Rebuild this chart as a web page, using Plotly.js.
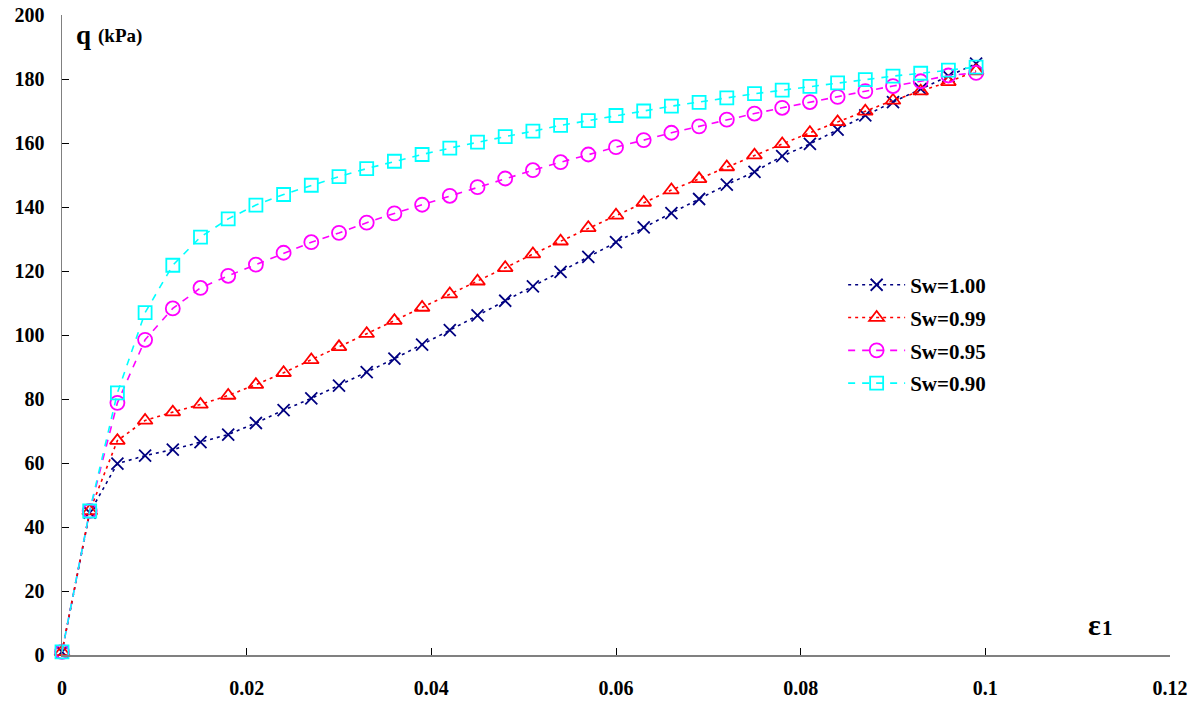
<!DOCTYPE html>
<html>
<head>
<meta charset="utf-8">
<script src="https://cdn.plot.ly/plotly-3.0.1.min.js"></script>
<style>html,body{margin:0;padding:0;background:#fff;}#chart{width:1200px;height:704px;}</style>
</head>
<body>
<div id="chart"></div>
<script>
// axial strain ε1
const strain = [0, 0.003, 0.006, 0.009, 0.012, 0.015, 0.018, 0.021, 0.024, 0.027, 0.030, 0.033, 0.036, 0.039, 0.042, 0.045, 0.048, 0.051, 0.054, 0.057, 0.060, 0.063, 0.066, 0.069, 0.072, 0.075, 0.078, 0.081, 0.084, 0.087, 0.090, 0.093, 0.096, 0.099];
const seriesNames = ["Sw=1.00", "Sw=0.99", "Sw=0.95", "Sw=0.90"];
const qSw100 = [1, 44.5, 59.8, 62.3, 64.2, 66.5, 68.9, 72.5, 76.5, 80.2, 84.2, 88.4, 92.6, 97.0, 101.5, 106.1, 110.7, 115.2, 119.7, 124.4, 129.0, 133.6, 138.1, 142.5, 147.0, 151.0, 155.9, 159.7, 164.2, 168.6, 172.8, 176.9, 180.9, 184.8];
const qSw099 = [1, 45, 67.0, 73.3, 75.9, 78.3, 81.1, 84.5, 88.2, 92.2, 96.3, 100.4, 104.5, 108.6, 112.8, 116.8, 121.0, 125.3, 129.3, 133.5, 137.4, 141.4, 145.3, 148.8, 152.5, 156.2, 159.7, 163.2, 166.6, 169.9, 173.3, 176.2, 179.1, 182.5];
const qSw095 = [1, 45, 78.8, 98.5, 108.3, 114.7, 118.5, 122.0, 125.7, 129.0, 131.9, 135.1, 138.0, 140.7, 143.5, 146.2, 148.9, 151.5, 154.0, 156.4, 158.7, 160.9, 163.2, 165.2, 167.3, 169.2, 171.0, 172.8, 174.4, 176.2, 177.8, 179.3, 181.1, 181.9];
const qSw090 = [1, 45, 81.9, 107.0, 121.8, 130.6, 136.3, 140.6, 143.9, 146.8, 149.5, 152.0, 154.3, 156.4, 158.4, 160.3, 162.0, 163.7, 165.5, 167.0, 168.6, 170.0, 171.5, 172.7, 174.1, 175.4, 176.5, 177.7, 178.8, 179.8, 180.9, 181.8, 182.8, 183.7];
const xTickVals = [0, 0.02, 0.04, 0.06, 0.08, 0.1, 0.12];
const xTickText = ["0", "0.02", "0.04", "0.06", "0.08", "0.1", "0.12"];
const yTickVals = [0, 20, 40, 60, 80, 100, 120, 140, 160, 180, 200];

const FONT = "Liberation Serif, serif";
const styles = [
  {color: "#000080", dash: "3px,4px", symbol: "x-thin-open", size: 12},
  {color: "#FF0000", dash: "3px,4px", symbol: "triangle-up-open", size: 13},
  {color: "#FF00FF", dash: "7px,7px", symbol: "circle-open", size: 14},
  {color: "#00FFFF", dash: "7px,7px", symbol: "square-open", size: 13}
];
const values = [qSw100, qSw099, qSw095, qSw090];
const traces = values.map((v, i) => ({
  type: "scatter",
  mode: "lines+markers",
  x: strain,
  y: v,
  name: seriesNames[i],
  legendgroup: "g" + i,
  cliponaxis: false,
  line: {color: styles[i].color, width: 1.6, dash: styles[i].dash},
  marker: {symbol: styles[i].symbol, size: styles[i].size, color: styles[i].color,
           line: {color: styles[i].color, width: 1.8}}
}));

const layout = {
  width: 1200, height: 704,
  margin: {l: 62, r: 30, t: 15, b: 49},
  paper_bgcolor: "#fff", plot_bgcolor: "#fff",
  font: {family: FONT, color: "#000", size: 20},
  showlegend: true,
  legend: {
    x: 0.705, y: 0.61, xanchor: "left", yanchor: "top",
    bgcolor: "rgba(0,0,0,0)", itemwidth: 57,
    font: {family: FONT, size: 21, color: "#000", weight: "bold"},
    tracegroupgap: 2.5
  },
  xaxis: {
    range: [0, 0.12], tickvals: xTickVals, ticktext: xTickText,
    showgrid: false, zeroline: false, showline: true, linecolor: "#808080", linewidth: 1.5,
    ticks: "inside", ticklen: 7, tickcolor: "#000", tickwidth: 1,
    ticklabelstandoff: 14,
    tickfont: {family: FONT, size: 20, color: "#000", weight: "bold"},
    fixedrange: true
  },
  yaxis: {
    range: [0, 200], tickvals: yTickVals,
    showgrid: false, zeroline: false, showline: true, linecolor: "#808080", linewidth: 1.5,
    ticks: "inside", ticklen: 7, tickcolor: "#000", tickwidth: 1,
    ticklabelstandoff: 12,
    tickfont: {family: FONT, size: 20, color: "#000", weight: "bold"},
    fixedrange: true
  },
  annotations: [
    {xref: "paper", yref: "paper", x: 0.011, y: 0.968, xanchor: "left", yanchor: "middle", showarrow: false,
     text: "q", font: {family: FONT, size: 27, color: "#000", weight: "bold"}},
    {xref: "paper", yref: "paper", x: 0.031, y: 0.9665, xanchor: "left", yanchor: "middle", showarrow: false,
     text: "(kPa)", font: {family: FONT, size: 19, color: "#000", weight: "bold"}},
    {xref: "paper", yref: "paper", x: 0.932, y: 0.047, xanchor: "center", yanchor: "middle", showarrow: false,
     text: "ε", font: {family: FONT, size: 30, color: "#000", weight: "bold"}},
    {xref: "paper", yref: "paper", x: 0.944, y: 0.0425, xanchor: "center", yanchor: "middle", showarrow: false,
     text: "1", font: {family: FONT, size: 21, color: "#000", weight: "bold"}}
  ]
};

Plotly.newPlot("chart", traces, layout, {displayModeBar: false, staticPlot: true});
</script>
</body>
</html>
